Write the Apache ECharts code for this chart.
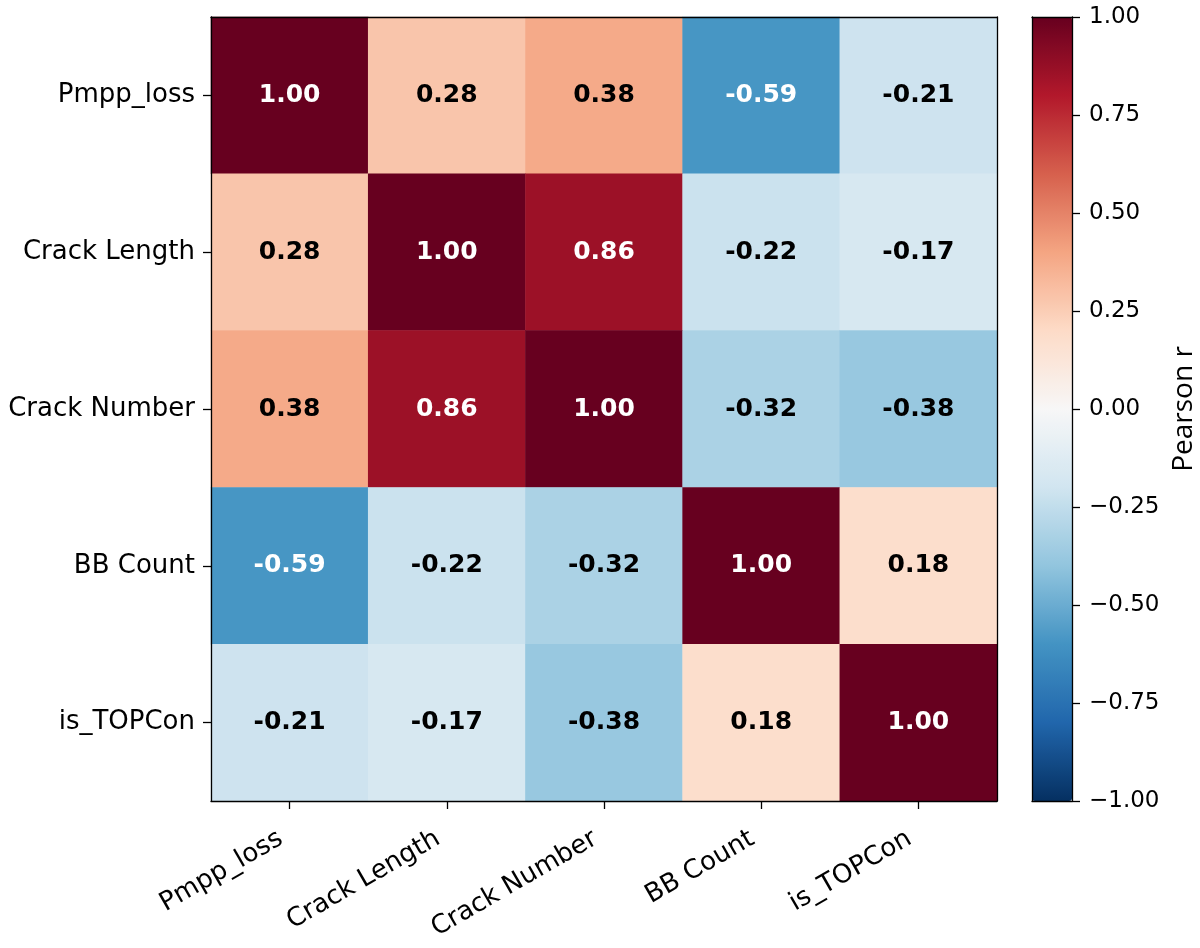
<!DOCTYPE html>
<html>
<head>
<meta charset="utf-8">
<script src="https://cdn.jsdelivr.net/npm/echarts@6/dist/echarts.min.js"></script>
<style>
  html, body { margin: 0; padding: 0; background: #fff; }
  #chart { width: 1200px; height: 948px; }
</style>
</head>
<body>
<div id="chart"></div>
<script>
// variable names (same order for rows and columns)
const varNames = ['Pmpp_loss', 'Crack Length', 'Crack Number', 'BB Count', 'is_TOPCon']

// correlation matrix, one array per row
const rowPmpp = [1.00, 0.28, 0.38, -0.59, -0.21]
const rowCrackLen = [0.28, 1.00, 0.86, -0.22, -0.17]
const rowCrackNum = [0.38, 0.86, 1.00, -0.32, -0.38]
const rowBB = [-0.59, -0.22, -0.32, 1.00, 0.18]
const rowTopcon = [-0.21, -0.17, -0.38, 0.18, 1.00]
const corrRows = [rowPmpp, rowCrackLen, rowCrackNum, rowBB, rowTopcon]

// colorbar range and tick step
const cbarMin = -1
const cbarMax = 1
const cbarStep = 0.25

// RdBu_r
const rdbuR = ['#053061', '#2166ac', '#4393c3', '#92c5de', '#d1e5f0', '#f7f7f7',
  '#fddbc7', '#f4a582', '#d6604d', '#b2182b', '#67001f']

const FONT = 'DejaVu Sans'

let cells = []
corrRows.forEach((row, i) => {
  row.forEach((v, j) => {
    cells.push({
      value: [j, i, v],
      label: { color: Math.abs(v) > 0.5 ? '#ffffff' : '#000000' }
    })
  })
})

const frameLine = { show: true, onZero: false, lineStyle: { color: '#000', width: 1.3 } }

let mycharts = echarts.init(document.getElementById('chart'))
mycharts.setOption({
  animation: false,
  backgroundColor: '#fff',
  grid: [
    { left: 211, top: 17, width: 786, height: 784 },
    { left: 1032, top: 17, width: 40, height: 784 }
  ],
  xAxis: [
    {
      gridIndex: 0,
      type: 'category',
      data: varNames,
      position: 'bottom',
      z: 10,
      axisLine: frameLine,
      axisTick: { show: true, alignWithLabel: true, length: 8, lineStyle: { color: '#000', width: 1.3 } },
      axisLabel: {
        rotate: 30, interval: 0, margin: 31, padding: [0, 10, 0, 0],
        fontSize: 26, fontFamily: FONT, color: '#000'
      },
      splitLine: { show: false }
    },
    {
      // top frame edge of heatmap
      gridIndex: 0, type: 'category', data: varNames, position: 'top', z: 10,
      axisLine: frameLine, axisTick: { show: false }, axisLabel: { show: false }, splitLine: { show: false }
    },
    {
      // colorbar bottom edge
      gridIndex: 1, type: 'value', min: 0, max: 1, position: 'bottom', z: 10,
      axisLine: frameLine, axisTick: { show: false }, axisLabel: { show: false }, splitLine: { show: false }
    },
    {
      // colorbar top edge
      gridIndex: 1, type: 'value', min: 0, max: 1, position: 'top', z: 10,
      axisLine: frameLine, axisTick: { show: false }, axisLabel: { show: false }, splitLine: { show: false }
    }
  ],
  yAxis: [
    {
      gridIndex: 0,
      type: 'category',
      data: varNames,
      inverse: true,
      position: 'left',
      z: 10,
      axisLine: frameLine,
      axisTick: { show: true, alignWithLabel: true, length: 8, lineStyle: { color: '#000', width: 1.3 } },
      axisLabel: { margin: 16, fontSize: 26, fontFamily: FONT, color: '#000' },
      splitLine: { show: false }
    },
    {
      gridIndex: 0, type: 'category', data: varNames, inverse: true, position: 'right', z: 10,
      axisLine: frameLine, axisTick: { show: false }, axisLabel: { show: false }, splitLine: { show: false }
    },
    {
      // colorbar ticks
      gridIndex: 1,
      type: 'value',
      min: cbarMin,
      max: cbarMax,
      interval: cbarStep,
      position: 'right',
      z: 10,
      name: 'Pearson r',
      nameLocation: 'middle',
      nameRotate: 90,
      nameGap: 98,
      nameTextStyle: { fontSize: 28, fontFamily: 'Open Sans', color: '#000' },
      axisLine: frameLine,
      axisTick: { show: true, length: 8, lineStyle: { color: '#000', width: 1.3 } },
      axisLabel: {
        margin: 17, fontSize: 23, fontFamily: FONT, color: '#000',
        formatter: v => v.toFixed(2).replace('-', '\u2212')
      },
      splitLine: { show: false }
    },
    {
      gridIndex: 1, type: 'value', min: cbarMin, max: cbarMax, position: 'left', z: 10,
      axisLine: frameLine, axisTick: { show: false }, axisLabel: { show: false }, splitLine: { show: false }
    }
  ],
  visualMap: {
    type: 'continuous',
    min: cbarMin,
    max: cbarMax,
    seriesIndex: 0,
    calculable: false,
    hoverLink: false,
    orient: 'vertical',
    left: 1032,
    top: 17,
    padding: 0,
    itemWidth: 40,
    itemHeight: 784,
    inRange: { color: rdbuR }
  },
  series: [
    {
      type: 'heatmap',
      xAxisIndex: 0,
      yAxisIndex: 0,
      data: cells,
      itemStyle: { borderWidth: 0 },
      label: {
        show: true,
        fontSize: 25,
        fontWeight: 'bold',
        fontFamily: FONT,
        formatter: p => p.value[2].toFixed(2)
      },
      emphasis: { disabled: true }
    }
  ]
})
</script>
</body>
</html>
